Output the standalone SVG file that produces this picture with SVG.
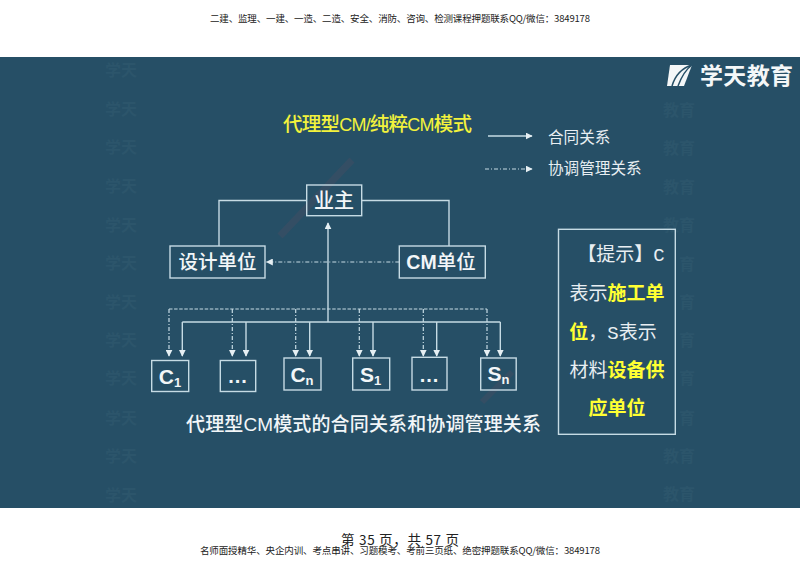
<svg xmlns="http://www.w3.org/2000/svg" width="800" height="566" viewBox="0 0 800 566">
<style>
text{font-family:"Noto Sans CJK SC","Liberation Sans",sans-serif}
.bx{fill:none;stroke:#c6dbe4;stroke-width:1.4}
.ln{fill:none;stroke:#c6dbe4;stroke-width:1.4}
.ds{fill:none;stroke:#c6dbe4;stroke-width:1.2;stroke-dasharray:4 2 1 2}
.dh{fill:none;stroke:#c6dbe4;stroke-width:1.2;stroke-dasharray:3.5 1.6}
.lb{fill:#f2f6f8;font-size:19.5px;font-weight:500;text-anchor:middle}
.ltn{font-family:"Liberation Sans",sans-serif;font-weight:700;font-size:21px}
.al{font-family:"Liberation Sans",sans-serif;font-weight:700}
.sub{font-family:"Liberation Sans",sans-serif;font-weight:700;font-size:13px}
.hd{fill:#222;font-size:9.5px;text-anchor:middle}
.wm{fill:#2c556b;font-size:16px;font-weight:700}
.pt{fill:#e8eef2;font-size:19px;text-anchor:middle}
.y{fill:#ffff33;font-weight:700}
.mono{font-family:"Liberation Mono",monospace}
.nar{font-family:"Liberation Sans Narrow","Liberation Sans",sans-serif}
</style>
<defs>
<marker id="a" viewBox="0 0 10 10" refX="9" refY="5" markerWidth="7" markerHeight="7" markerUnits="userSpaceOnUse" orient="auto"><path d="M0 0L10 5L0 10Z" fill="#e6eff3"/></marker>
</defs>
<rect width="800" height="566" fill="#fff"/>
<rect y="57" width="800" height="451" fill="#264f66"/>
<g id="watermark">
<path d="M352 160L280 236" stroke="#a04a5a" stroke-width="7" opacity=".12" fill="none"/>
<path d="M512 372L482 402" stroke="#a04a5a" stroke-width="6" opacity=".12" fill="none"/>
<text class="wm" x="105" y="76">学天</text><text class="wm" x="105" y="115">学天</text><text class="wm" x="105" y="153">学天</text><text class="wm" x="105" y="192">学天</text><text class="wm" x="105" y="231">学天</text><text class="wm" x="105" y="269">学天</text><text class="wm" x="105" y="308">学天</text><text class="wm" x="105" y="346">学天</text><text class="wm" x="105" y="384">学天</text><text class="wm" x="105" y="424">学天</text><text class="wm" x="105" y="462">学天</text><text class="wm" x="105" y="501">学天</text>
<text class="wm" x="663" y="116">教育</text><text class="wm" x="663" y="154">教育</text><text class="wm" x="663" y="193">教育</text><text class="wm" x="663" y="231">教育</text>
<text class="wm" x="679" y="270">育</text><text class="wm" x="679" y="308">育</text><text class="wm" x="679" y="346">育</text><text class="wm" x="679" y="384">育</text><text class="wm" x="679" y="424">育</text>
<text class="wm" x="663" y="462">教育</text><text class="wm" x="663" y="500">教育</text>
</g>
<text class="hd" x="400" y="21.5" textLength="380">二建、监理、一建、一造、二造、安全、消防、咨询、检测课程押题联系QQ/微信：3849178</text>
<text x="400" y="545" font-size="13.5" fill="#222" text-anchor="middle" textLength="118">第 35 页，共 57 页</text>
<text class="hd" x="400" y="553.5" textLength="400">名师面授精华、央企内训、考点串讲、习题模考、考前三页纸、绝密押题联系QQ/微信：3849178</text>
<g id="logo">
<path d="M670 65H692L684 86H667Z" fill="#f4f7f8"/>
<path d="M692 65C682 68 675 76 672 86M692 65C685 70 681 78 678 86" fill="none" stroke="#264f66" stroke-width="1.5"/>
<text x="700" y="84" font-size="23" font-weight="700" fill="#f4f7f8" textLength="93">学天教育</text>
</g>
<text id="title" x="283" y="131" font-size="19.5" font-weight="500" fill="#f2f23c" textLength="189">代理型<tspan class="nar" font-size="18">CM/</tspan>纯粹<tspan class="nar" font-size="18">CM</tspan>模式</text>
<g id="legend">
<path class="ln" d="M488 136H532" marker-end="url(#a)"/>
<path class="ds" d="M485 169H532" marker-end="url(#a)"/>
<text x="548" y="143" font-size="15.6" fill="#e8eef2">合同关系</text>
<text x="548" y="174" font-size="15.6" fill="#e8eef2">协调管理关系</text>
</g>
<g id="connectors">
<path class="ln" d="M306.700 200.500H219V246M361.700 200.500H449V246"/>
<path class="ds" d="M399.300 262H266.500" marker-end="url(#a)"/>
<path class="ln" d="M328 322V223" marker-end="url(#a)"/>
<path class="ln" d="M182.300 322H500.300"/>
<path class="dh" d="M169 309H487"/>
<path class="ds" d="M169 309V356" marker-end="url(#a)"/>
<path class="ds" d="M232.300 309V356" marker-end="url(#a)"/>
<path class="ds" d="M295.700 309V356" marker-end="url(#a)"/>
<path class="ds" d="M359.300 309V356" marker-end="url(#a)"/>
<path class="ds" d="M423.300 309V356" marker-end="url(#a)"/>
<path class="ds" d="M487 309V356" marker-end="url(#a)"/>
<path class="ln" d="M182.300 322V356" marker-end="url(#a)"/>
<path class="ln" d="M246 322V356" marker-end="url(#a)"/>
<path class="ln" d="M309.700 322V356" marker-end="url(#a)"/>
<path class="ln" d="M373 322V356" marker-end="url(#a)"/>
<path class="ln" d="M436.700 322V356" marker-end="url(#a)"/>
<path class="ln" d="M500.300 322V356" marker-end="url(#a)"/>
</g>
<g id="n-owner"><rect class="bx" x="306.700" y="185" width="55" height="30.700"/><text class="lb" x="334" y="207.500" style="font-size:20px">业主</text></g>
<g id="n-design"><rect class="bx" x="170" y="246" width="95" height="32"/><text class="lb" x="217.500" y="269">设计单位</text></g>
<g id="n-cm"><rect class="bx" x="399.300" y="246" width="86" height="32"/><text class="lb" x="441" y="269"><tspan class="al">CM</tspan>单位</text></g>
<g id="n-c1"><rect class="bx" x="151.700" y="360.500" width="37" height="31"/><text class="lb ltn" x="170" y="384" style="font-size:21px">C<tspan class="sub" dy="3">1</tspan></text></g>
<g id="n-d1"><rect class="bx" x="220.300" y="360.500" width="35.400" height="31"/><text class="lb ltn" x="238" y="383" letter-spacing="1" style="font-size:20px">...</text></g>
<g id="n-cn"><rect class="bx" x="284" y="358" width="37" height="32"/><text class="lb ltn" x="302" y="382" style="font-size:21px">C<tspan class="sub" dy="3">n</tspan></text></g>
<g id="n-s1"><rect class="bx" x="352.700" y="358" width="37" height="32"/><text class="lb ltn" x="370.500" y="382" style="font-size:21px">S<tspan class="sub" dy="3">1</tspan></text></g>
<g id="n-d2"><rect class="bx" x="412" y="357.300" width="35" height="32.700"/><text class="lb ltn" x="429.500" y="382" letter-spacing="1" style="font-size:20px">...</text></g>
<g id="n-sn"><rect class="bx" x="480.700" y="358" width="35.500" height="32"/><text class="lb ltn" x="498.500" y="381" style="font-size:21px">S<tspan class="sub" dy="3">n</tspan></text></g>
<text id="caption" x="186" y="431" font-size="19" font-weight="500" fill="#f2f6f8" textLength="355">代理型<tspan class="nar">CM</tspan>模式的合同关系和协调管理关系</text>
<g id="note">
<rect x="558.500" y="229.300" width="116.800" height="205" fill="none" stroke="#c6dbe4" stroke-width="1.400"/>
<text class="pt" x="621" y="261">【提示】<tspan class="mono">C</tspan></text>
<text class="pt" x="617" y="300">表示<tspan class="y">施工单</tspan></text>
<text class="pt" x="613" y="339"><tspan class="y">位</tspan>，<tspan class="mono">S</tspan>表示</text>
<text class="pt" x="617" y="377">材料<tspan class="y">设备供</tspan></text>
<text class="pt" x="617" y="415"><tspan class="y">应单位</tspan></text>
</g>
</svg>
